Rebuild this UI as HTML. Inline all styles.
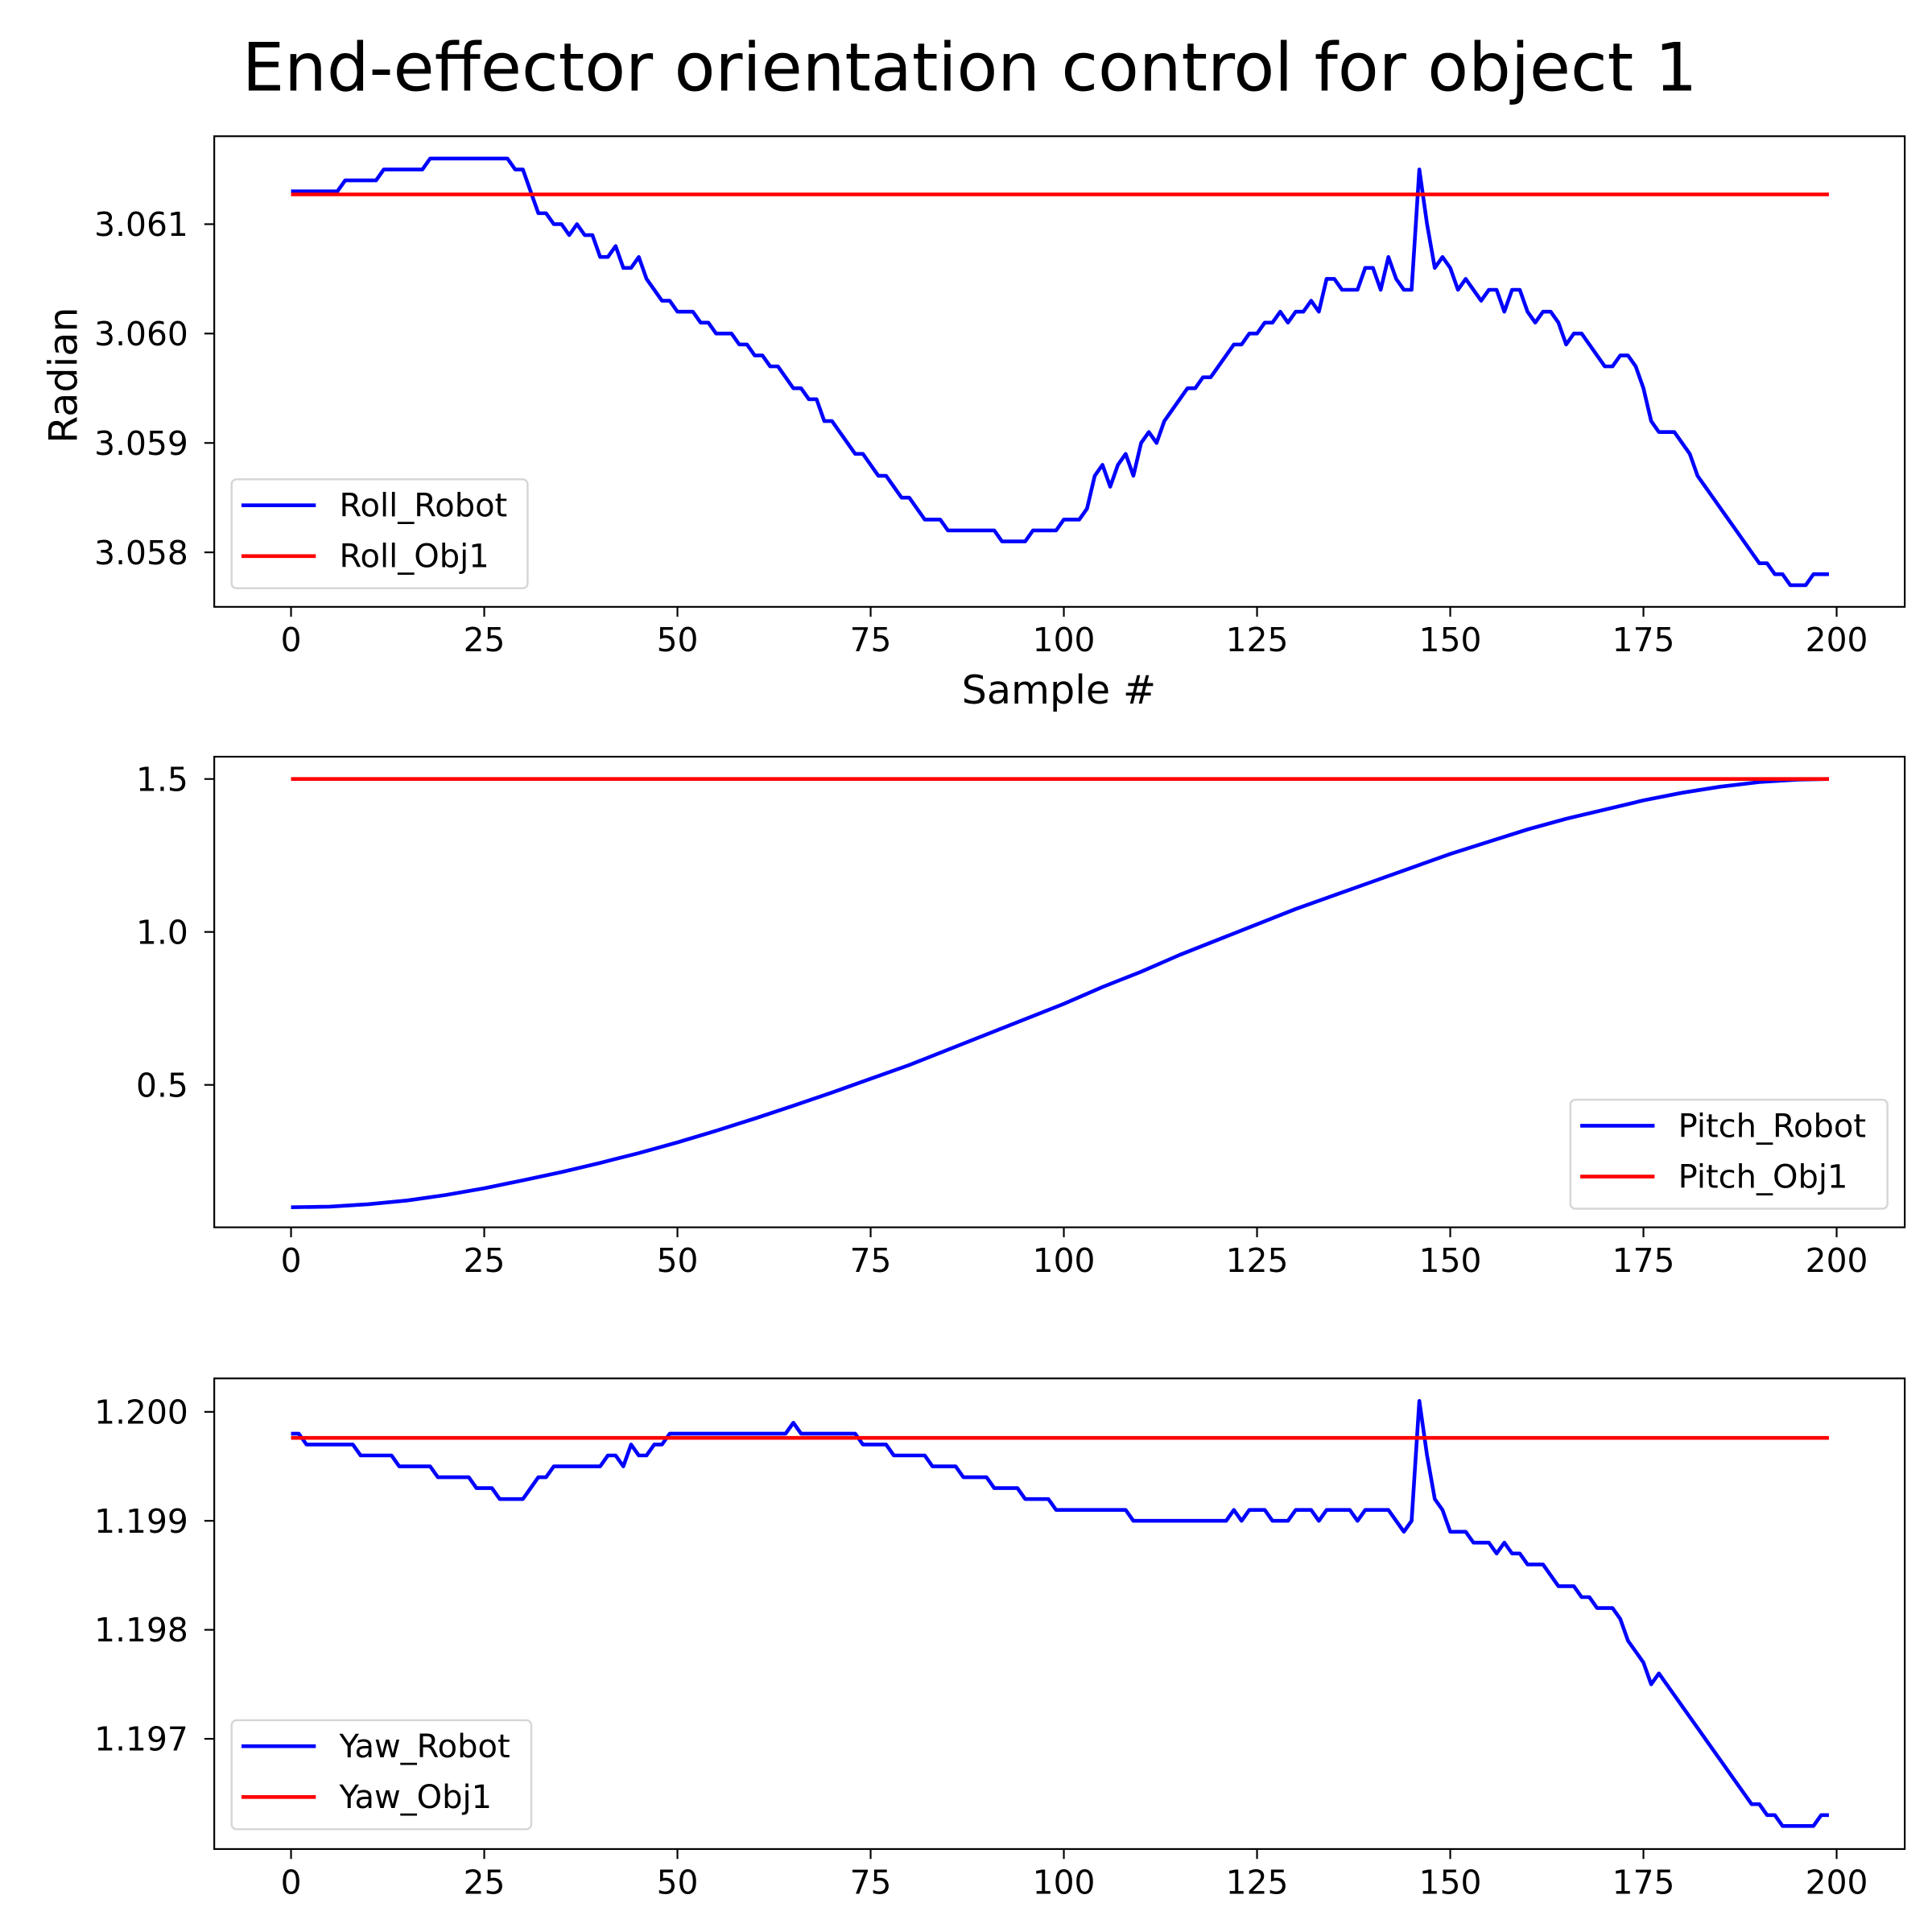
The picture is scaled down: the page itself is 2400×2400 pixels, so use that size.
<!DOCTYPE html>
<html><head><meta charset="utf-8"><style>
html,body{margin:0;padding:0;background:#fff;}
svg{display:block;font-family:"DejaVu Sans","Liberation Sans",sans-serif;}
</style></head><body>
<svg id="chart" width="2400" height="2400" viewBox="0 0 1560 1560" xmlns="http://www.w3.org/2000/svg">
<rect width="1560" height="1560" fill="#fff"/>
<text x="783" y="73" font-size="54" text-anchor="middle">End-effector orientation control for object 1</text>
<g id="plots"></g>
</svg>
<script>
const xTicks = [0,25,50,75,100,125,150,175,200];
const rollTicks = [3.058,3.059,3.060,3.061];
const pitchTicks = [0.5,1.0,1.5];
const yawTicks = [1.197,1.198,1.199,1.200];
const rollTarget = 3.061272;
const pitchTarget = 1.5;
const yawTarget = 1.199761;
const rollRobot = [
3.0613,3.0613,3.0613,3.0613,3.0613,3.0613,3.0613,3.0614,3.0614,3.0614,
3.0614,3.0614,3.0615,3.0615,3.0615,3.0615,3.0615,3.0615,3.0616,3.0616,
3.0616,3.0616,3.0616,3.0616,3.0616,3.0616,3.0616,3.0616,3.0616,3.0615,
3.0615,3.0613,3.0611,3.0611,3.0610,3.0610,3.0609,3.0610,3.0609,3.0609,
3.0607,3.0607,3.0608,3.0606,3.0606,3.0607,3.0605,3.0604,3.0603,3.0603,
3.0602,3.0602,3.0602,3.0601,3.0601,3.0600,3.0600,3.0600,3.0599,3.0599,
3.0598,3.0598,3.0597,3.0597,3.0596,3.0595,3.0595,3.0594,3.0594,3.0592,
3.0592,3.0591,3.0590,3.0589,3.0589,3.0588,3.0587,3.0587,3.0586,3.0585,
3.0585,3.0584,3.0583,3.0583,3.0583,3.0582,3.0582,3.0582,3.0582,3.0582,
3.0582,3.0582,3.0581,3.0581,3.0581,3.0581,3.0582,3.0582,3.0582,3.0582,
3.0583,3.0583,3.0583,3.0584,3.0587,3.0588,3.0586,3.0588,3.0589,3.0587,
3.0590,3.0591,3.0590,3.0592,3.0593,3.0594,3.0595,3.0595,3.0596,3.0596,
3.0597,3.0598,3.0599,3.0599,3.0600,3.0600,3.0601,3.0601,3.0602,3.0601,
3.0602,3.0602,3.0603,3.0602,3.0605,3.0605,3.0604,3.0604,3.0604,3.0606,
3.0606,3.0604,3.0607,3.0605,3.0604,3.0604,3.0615,3.0610,3.0606,3.0607,
3.0606,3.0604,3.0605,3.0604,3.0603,3.0604,3.0604,3.0602,3.0604,3.0604,
3.0602,3.0601,3.0602,3.0602,3.0601,3.0599,3.0600,3.0600,3.0599,3.0598,
3.0597,3.0597,3.0598,3.0598,3.0597,3.0595,3.0592,3.0591,3.0591,3.0591,
3.0590,3.0589,3.0587,3.0586,3.0585,3.0584,3.0583,3.0582,3.0581,3.0580,
3.0579,3.0579,3.0578,3.0578,3.0577,3.0577,3.0577,3.0578,3.0578,3.0578];
const pitchSamples = [0,5,10,15,20,25,30,35,40,45,50,55,60,65,70,75,80,85,90,95,100,105,110,115,120,125,130,135,140,145,150,155,160,165,170,175,180,185,190,195,199];
const pitchRobot = [0.100,0.102,0.110,0.122,0.140,0.162,0.188,0.215,0.245,0.277,0.312,0.350,0.390,0.432,0.475,0.520,0.565,0.615,0.665,0.715,0.765,0.820,0.870,0.925,0.975,1.025,1.075,1.120,1.165,1.210,1.255,1.295,1.335,1.370,1.400,1.430,1.455,1.475,1.490,1.498,1.500];
const yawRobot = [
1.1998,1.1998,1.1997,1.1997,1.1997,1.1997,1.1997,1.1997,1.1997,1.1996,
1.1996,1.1996,1.1996,1.1996,1.1995,1.1995,1.1995,1.1995,1.1995,1.1994,
1.1994,1.1994,1.1994,1.1994,1.1993,1.1993,1.1993,1.1992,1.1992,1.1992,
1.1992,1.1993,1.1994,1.1994,1.1995,1.1995,1.1995,1.1995,1.1995,1.1995,
1.1995,1.1996,1.1996,1.1995,1.1997,1.1996,1.1996,1.1997,1.1997,1.1998,
1.1998,1.1998,1.1998,1.1998,1.1998,1.1998,1.1998,1.1998,1.1998,1.1998,
1.1998,1.1998,1.1998,1.1998,1.1998,1.1999,1.1998,1.1998,1.1998,1.1998,
1.1998,1.1998,1.1998,1.1998,1.1997,1.1997,1.1997,1.1997,1.1996,1.1996,
1.1996,1.1996,1.1996,1.1995,1.1995,1.1995,1.1995,1.1994,1.1994,1.1994,
1.1994,1.1993,1.1993,1.1993,1.1993,1.1992,1.1992,1.1992,1.1992,1.1991,
1.1991,1.1991,1.1991,1.1991,1.1991,1.1991,1.1991,1.1991,1.1991,1.1990,
1.1990,1.1990,1.1990,1.1990,1.1990,1.1990,1.1990,1.1990,1.1990,1.1990,
1.1990,1.1990,1.1991,1.1990,1.1991,1.1991,1.1991,1.1990,1.1990,1.1990,
1.1991,1.1991,1.1991,1.1990,1.1991,1.1991,1.1991,1.1991,1.1990,1.1991,
1.1991,1.1991,1.1991,1.1990,1.1989,1.1990,1.2001,1.1996,1.1992,1.1991,
1.1989,1.1989,1.1989,1.1988,1.1988,1.1988,1.1987,1.1988,1.1987,1.1987,
1.1986,1.1986,1.1986,1.1985,1.1984,1.1984,1.1984,1.1983,1.1983,1.1982,
1.1982,1.1982,1.1981,1.1979,1.1978,1.1977,1.1975,1.1976,1.1975,1.1974,
1.1973,1.1972,1.1971,1.1970,1.1969,1.1968,1.1967,1.1966,1.1965,1.1964,
1.1964,1.1963,1.1963,1.1962,1.1962,1.1962,1.1962,1.1962,1.1963,1.1963];

const NS='http://www.w3.org/2000/svg';
const root=document.getElementById('plots');
function mk(tag,attrs,parent){const e=document.createElementNS(NS,tag);for(const k in attrs)e.setAttribute(k,attrs[k]);(parent||root).appendChild(e);return e;}
const X0=173,X1=1538;
function xs(v){return 235+(v-0)*(1483-235)/200;}

function panel(cfg){
  const g=mk('g',{});
  
  
  const ys=v=>cfg.p0+(v-cfg.v0)*(cfg.p1-cfg.p0)/(cfg.v1-cfg.v0);
  xTicks.forEach(t=>{
    mk('line',{x1:xs(t),x2:xs(t),y1:cfg.bot,y2:cfg.bot+8,stroke:'#000','stroke-width':1.4},g);
    const tx=mk('text',{x:xs(t),y:cfg.bot+36,'font-size':26.5,'text-anchor':'middle'},g);
    tx.textContent=t;
    
    
  });
  cfg.ticks.forEach(t=>{
    const y=ys(t);
    mk('line',{x1:X0-8,x2:X0,y1:y,y2:y,stroke:'#000','stroke-width':1.4},g);
    const tx=mk('text',{x:X0-21,y:y+9.5,'font-size':26.5,'text-anchor':'end'},g);
    tx.textContent=t.toFixed(cfg.dec);
    
    
  });
  let d='';
  cfg.xsData.forEach((xv,i)=>{d+=(i?'L':'M')+xs(xv).toFixed(2)+' '+ys(cfg.robot[i]).toFixed(2);});
  const rl=mk('path',{d:d,fill:'none',stroke:'#0000ff','stroke-width':3,'stroke-linejoin':'round'},g);
  
  
  const tl=mk('line',{x1:xs(0),x2:xs(199),y1:ys(cfg.target),y2:ys(cfg.target),stroke:'#ff0000','stroke-width':3},g);
  
  
  const fr=mk('rect',{x:X0,y:cfg.top,width:X1-X0,height:cfg.bot-cfg.top,fill:'none',stroke:'#000','stroke-width':1.4},g);
  
  
  const L=cfg.leg;
  const lg=mk('g',{},g);
  
  
  mk('rect',{x:L.x,y:L.y,width:L.w,height:88,rx:4,fill:'#fff','fill-opacity':0.8,stroke:'#d6d6d6','stroke-width':1.6},lg);
  [[cfg.labels[0],'#0000ff'],[cfg.labels[1],'#ff0000']].forEach((e,i)=>{
    const yy=L.y+21+i*41;
    mk('line',{x1:L.x+8,x2:L.x+68,y1:yy,y2:yy,stroke:e[1],'stroke-width':3},lg);
    const t=mk('text',{x:L.x+87,y:yy+9,'font-size':26},lg);
    t.textContent=e[0];
    
    
  });
}
const idx=rollRobot.map((_,i)=>i);
panel({name:'roll',top:110,bot:490,v0:3.061,p0:181,v1:3.058,p1:446,ticks:rollTicks,dec:3,xsData:idx,robot:rollRobot,target:rollTarget,labels:['Roll_Robot','Roll_Obj1'],leg:{x:187,y:387,w:239}});
panel({name:'pitch',top:611,bot:991,v0:1.5,p0:629,v1:0.5,p1:876,ticks:pitchTicks,dec:1,xsData:pitchSamples,robot:pitchRobot,target:pitchTarget,labels:['Pitch_Robot','Pitch_Obj1'],leg:{x:1268,y:888,w:256}});
panel({name:'yaw',top:1113,bot:1493,v0:1.200,p0:1140,v1:1.197,p1:1404,ticks:yawTicks,dec:3,xsData:yawRobot.map((_,i)=>i),robot:yawRobot,target:yawTarget,labels:['Yaw_Robot','Yaw_Obj1'],leg:{x:187,y:1389,w:242}});
const xl=mk('text',{x:855,y:568,'font-size':32,'text-anchor':'middle'});
xl.textContent='Sample #';


const yl=mk('text',{x:0,y:0,'font-size':32,'text-anchor':'middle',transform:'translate(62,303) rotate(-90)'});
yl.textContent='Radian';


</script>
</body></html>
